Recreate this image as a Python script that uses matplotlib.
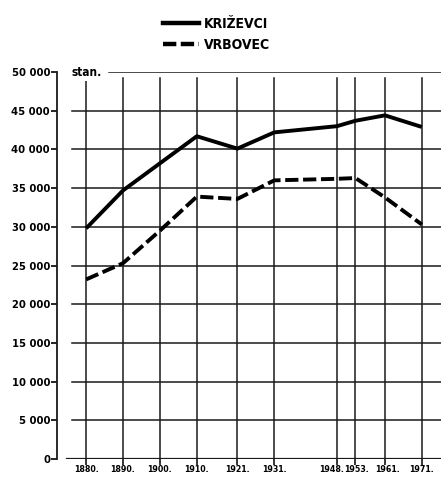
import matplotlib
matplotlib.use("Agg")
import matplotlib.pyplot as plt
from matplotlib.lines import Line2D
from matplotlib.transforms import ScaledTranslation, blended_transform_factory

years = [1880, 1890, 1900, 1910, 1921, 1931, 1948, 1953, 1961, 1971]
krizevci = [29800, 34700, 38200, 41700, 40100, 42200, 43000, 43700, 44400, 42900]
vrbovec = [23200, 25300, 29500, 33900, 33600, 36000, 36200, 36300, 33800, 30300]
year_labels = ["1880.", "1890.", "1900.", "1910.", "1921.", "1931.", "1948.", "1953.", "1961.", "1971."]
y_ticks = [0, 5000, 10000, 15000, 20000, 25000, 30000, 35000, 40000, 45000, 50000]
y_labels = ["0", "5 000", "10 000", "15 000", "20 000", "25 000", "30 000",
            "35 000", "40 000", "45 000", "50 000"]
series_names = ["KRIŽEVCI", "VRBOVEC"]

W, H = 441, 487
fig = plt.figure(figsize=(W / 100, H / 100), dpi=100)
ax = fig.add_axes([57 / W, 1 - 459 / H, 1 - 57 / W, (459 - 72) / H])

ax.set_xlim(1872.1, 1976.2)
ax.set_ylim(0, 50000)

gc = "#1a1a1a"
for v in y_ticks:
    if v == 50000:
        ax.axhline(v, xmin=0.135, xmax=1, color=gc, lw=1.1, zorder=1)
    elif v == 0:
        ax.axhline(v, xmin=0.025, xmax=1, color=gc, lw=1.6, zorder=1)
    else:
        ax.axhline(v, xmin=0.04, xmax=1, color=gc, lw=1.1, zorder=1)
for yr in years:
    ax.axvline(yr, ymin=0, ymax=0.985, color=gc, lw=1.1, zorder=1)

ax.plot(years, krizevci, color="black", lw=2.8, solid_capstyle="butt", zorder=3)
ax.plot(years, vrbovec, color="black", lw=2.8, dashes=(3.4, 1.2), zorder=3)

for s in ["top", "right", "bottom"]:
    ax.spines[s].set_visible(False)
ax.spines["left"].set_linewidth(1.3)
ax.spines["left"].set_color(gc)

tick_font = dict(family="DejaVu Sans", weight="bold", stretch="condensed")
ax.set_yticks(y_ticks)
ax.set_yticklabels(y_labels, fontsize=8, **tick_font)
ax.tick_params(axis="y", direction="out", length=4, width=1.2, pad=1, colors="black")
ax.set_xticks(years)
ax.set_xticklabels([])
ax.tick_params(axis="x", direction="out", length=4, width=1.1, colors="black")

shifts = {"1948.": -5, "1953.": 1, "1961.": 3}
base = blended_transform_factory(ax.transData, ax.transAxes)
for yr, lab in zip(years, year_labels):
    dx = shifts.get(lab, 0)
    tr = base + ScaledTranslation(dx / 100, -6 / 100, fig.dpi_scale_trans)
    ax.text(yr, 0, lab, transform=tr, ha="center", va="top", fontsize=6.3,
            clip_on=False, **tick_font)

ax.text(1876.0, 50000, "stan.", fontsize=8.5, ha="left", va="center",
        bbox=dict(facecolor="white", edgecolor="none", pad=1.5), zorder=5, **tick_font)

handles = [Line2D([0], [0], color="black", lw=3.2),
           Line2D([0], [0], color="black", lw=3.2, dashes=(3.0, 1.0))]
fig.legend(handles, series_names, loc="upper left", bbox_to_anchor=(150 / W, 1 - 4 / H),
           frameon=False, handlelength=2.6, handletextpad=0.4, labelspacing=0.55,
           prop=dict(family="DejaVu Sans", size=10, weight="bold", stretch="condensed"))

fig.savefig("out.png", dpi=100, facecolor="white")
